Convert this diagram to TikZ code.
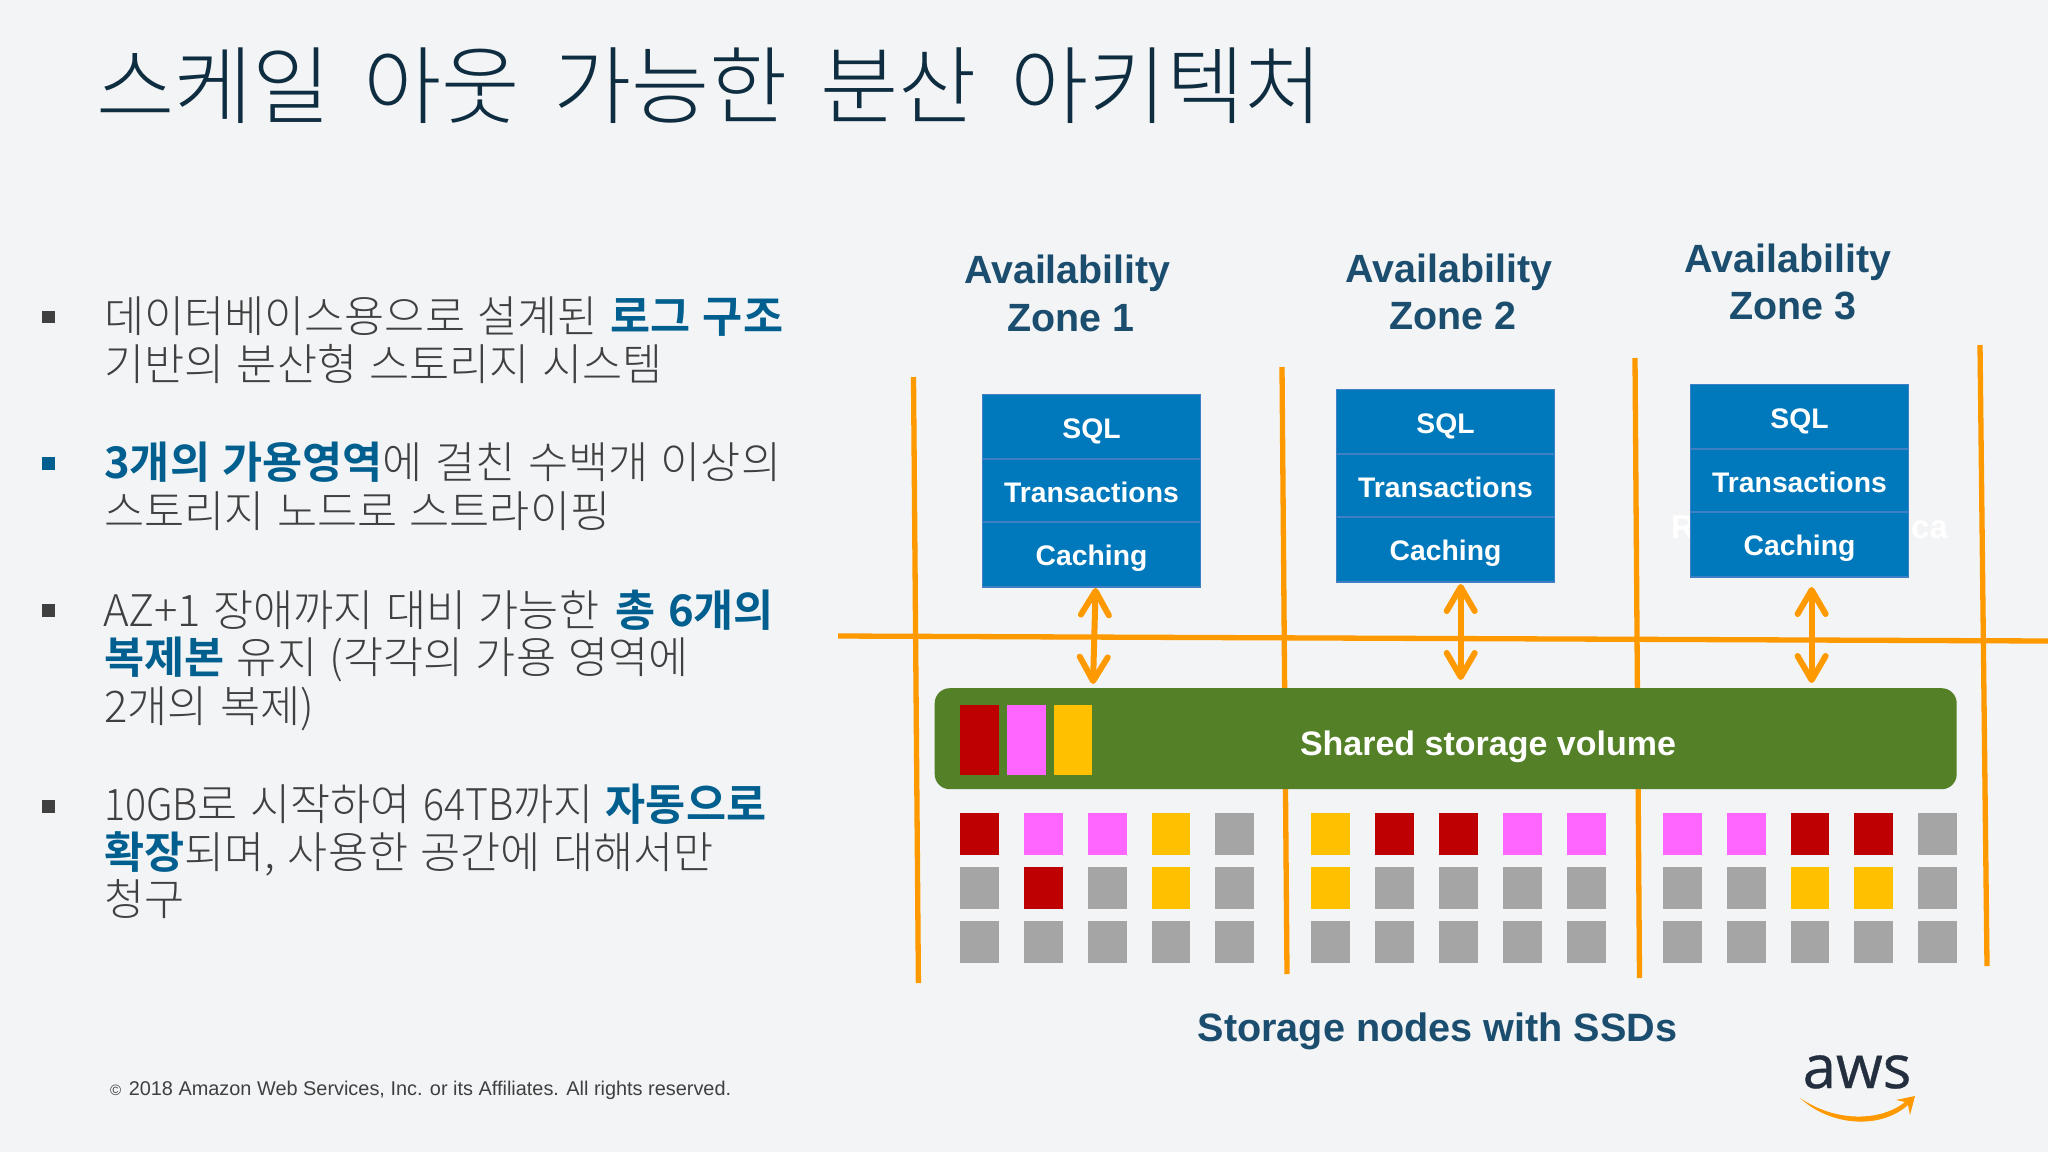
\documentclass[tikz,border=0pt]{standalone}
\usepackage{fontspec}
\usetikzlibrary{arrows.meta}
\setmainfont{Liberation Sans}
\newfontfamily\krfont{Noto Sans CJK KR}[UprightFont=* Light,BoldFont=* Bold]
\newfontfamily\krnarrow{Noto Sans CJK KR}[UprightFont=* Light,FakeStretch=0.9]
\newfontfamily\logofont{Open Sans}[FakeBold=0.6]
\definecolor{bgc}{HTML}{F3F4F6}
\definecolor{orangec}{HTML}{FF9900}
\definecolor{boxc}{HTML}{0079BC}
\definecolor{boxe}{HTML}{3F7FC4}
\definecolor{greenc}{HTML}{548027}
\definecolor{headc}{HTML}{1B4D6E}
\definecolor{titlec}{HTML}{0F2D40}
\definecolor{bodyc}{HTML}{404040}
\definecolor{hlc}{HTML}{005F8F}
\definecolor{cr}{HTML}{BE0000}
\definecolor{cp}{HTML}{FF66FF}
\definecolor{cy}{HTML}{FFC000}
\definecolor{cg}{HTML}{A5A5A5}
\definecolor{awsc}{HTML}{232F3E}
\newcommand{\hl}[1]{{\bfseries\color{hlc}#1}}
\newcommand{\nl}[1]{{\krnarrow #1}}
\newcommand{\bodyfont}{\krfont\fontsize{43.6}{43.6}\selectfont\spaceskip=12.4pt\relax}
\newcommand{\titlefont}{\krfont\fontsize{85}{85}\selectfont\spaceskip=33pt\relax}
\tikzset{
  x=1pt,y=-1pt,
  fence/.style={draw=orangec,line width=5.3pt},
  link/.style={draw=orangec,line width=6pt,{Straight Barb[length=24pt,width=28pt,round]}-{Straight Barb[length=24pt,width=28pt,round]}},
  boxrow/.style={draw=boxe,line width=1.5pt,fill=boxc,minimum width=218pt,inner sep=0pt,outer sep=0pt,text=white,font=\bfseries\fontsize{28.3}{28.3}\selectfont,text height=23pt,text depth=0pt},
  lastrow/.style={boxrow,text height=21.5pt},
  zone/.style={anchor=base,text=headc,inner sep=0pt,font=\bfseries\fontsize{39.4}{39.4}\selectfont},
  cell/.style={anchor=north west,minimum width=38.7pt,minimum height=42pt,inner sep=0pt,outer sep=0pt},
  body/.style={anchor=base west,inner sep=0pt,text=bodyc,font=\bodyfont},
  bullet/.style={anchor=north west,minimum width=13pt,minimum height=12.5pt,inner sep=0pt,fill=bodyc},
  bigtext/.style={anchor=base,inner sep=0pt}
}
\begin{document}
\begin{tikzpicture}
\useasboundingbox (0,0) rectangle (2048,1152);
\fill[bgc] (0,0) rectangle (2048,1152);
% title
\node[anchor=base west,inner sep=0pt,text=titlec,font=\titlefont] (title) at (96,117.5) {스케일 아웃 가능한 분산 아키텍처};
% bullets
\node[bullet] (b1) at (41.5,310.5) {};
\node[bullet,fill=hlc] (b2) at (41.5,457) {};
\node[bullet] (b3) at (41.5,604) {};
\node[bullet] (b4) at (41.5,800) {};
\node[body] (l1) at (104,332) {데이터베이스용으로 설계된 \hl{로그 구조}};
\node[body] (l2) at (104,380.5) {기반의 분산형 스토리지 시스템};
\node[body] (l3) at (104,478.5) {\hl{3개의 가용영역}에 걸친 수백개 이상의};
\node[body] (l4) at (104,527) {스토리지 노드로 스트라이핑};
\node[body] (l5) at (103,626) {AZ+1 장애까지 대비 가능한 \hspace{4pt}\hl{총 6개의}};
\node[body] (l6) at (104,673) {\hl{복제본} 유지 (각각의 가용 영역에};
\node[body] (l7) at (104,722) {2개의 복제)};
\node[body] (l8) at (104,820) {\nl{10GB}로 시작하여 \nl{64TB}까지 \hl{자동으로}};
\node[body] (l9) at (104,868) {\hl{확장}되며, 사용한 공간에 대해서만};
\node[body] (l10) at (104,915) {청구};
% fences
\coordinate (v1a) at (913.5,377); \coordinate (v1b) at (918.4,983);
\coordinate (v2a) at (1282,367); \coordinate (v2b) at (1287,974);
\coordinate (v3a) at (1635,358); \coordinate (v3b) at (1639.5,978);
\coordinate (v4a) at (1980,345); \coordinate (v4b) at (1987,966);
\coordinate (ha) at (838,636); \coordinate (hb) at (2048,641);
\draw[fence] (v1a) -- (v1b);
\draw[fence] (v2a) -- (v2b);
\draw[fence] (v3a) -- (v3b);
\draw[fence] (v4a) -- (v4b);
\draw[fence] (ha) -- (hb);
% ghost text
\node[anchor=base west,inner sep=0pt,text=white,font=\bfseries\fontsize{33}{33}\selectfont] (ghostr) at (1671,538) {R};
\node[anchor=base west,inner sep=0pt,text=white,font=\bfseries\fontsize{33}{33}\selectfont] (ghostc) at (1911,538) {ca};
% zone titles
\node[zone] (z1a) at (1067.5,283.5) {Availability};
\node[zone] (z1b) at (1071,331) {Zone 1};
\node[zone] (z2a) at (1449,282) {Availability};
\node[zone] (z2b) at (1453,329) {Zone 2};
\node[zone] (z3a) at (1788,272) {Availability};
\node[zone] (z3b) at (1792.5,319) {Zone 3};
% SQL stacks
\node[boxrow,anchor=north west,minimum height=64.7pt] (s1) at (982.5,394.5) {SQL};
\node[boxrow,anchor=north,minimum height=63pt] (t1) at (s1.south) {Transactions};
\node[lastrow,anchor=north,minimum height=64.8pt] (c1) at (t1.south) {Caching};
\node[boxrow,anchor=north west,minimum height=64.7pt] (s2) at (1336.5,389.5) {SQL};
\node[boxrow,anchor=north,minimum height=63pt] (t2) at (s2.south) {Transactions};
\node[lastrow,anchor=north,minimum height=64.8pt] (c2) at (t2.south) {Caching};
\node[boxrow,anchor=north west,minimum height=64.7pt] (s3) at (1690.5,384.5) {SQL};
\node[boxrow,anchor=north,minimum height=63pt] (t3) at (s3.south) {Transactions};
\node[lastrow,anchor=north,minimum height=64.8pt] (c3) at (t3.south) {Caching};
% shared volume
\node[anchor=north west,fill=greenc,rounded corners=15pt,minimum width=1022pt,minimum height=101pt,inner sep=0pt] (vol) at (934.5,688) {};
\node[bigtext,text=white,font=\bfseries\fontsize{34}{34}\selectfont] (voltext) at (1488,755) {Shared storage volume};
\node[cell,fill=cr,minimum height=70pt] (sr) at (960,705) {};
\node[cell,fill=cp,minimum height=70pt] (sp) at (1007,705) {};
\node[cell,fill=cy,minimum height=70pt] (sy) at (1053.5,705) {};
% arrows
\coordinate (a1a) at (1095.6,588); \coordinate (a1b) at (1093,684);
\coordinate (a2a) at (1460.7,584); \coordinate (a2b) at (1460.7,680);
\coordinate (a3a) at (1811.6,587); \coordinate (a3b) at (1811.6,683);
\draw[link] (a1a) -- (a1b);
\draw[link] (a2a) -- (a2b);
\draw[link] (a3a) -- (a3b);
% storage grid
\foreach \x/\p/\q/\r [count=\i] in {
 960/cr/cg/cg,1024/cp/cr/cg,1088/cp/cg/cg,1151.5/cy/cy/cg,1215/cg/cg/cg,
 1311/cy/cy/cg,1375/cr/cg/cg,1439/cr/cg/cg,1503/cp/cg/cg,1567/cp/cg/cg,
 1663/cp/cg/cg,1727/cp/cg/cg,1790.5/cr/cy/cg,1854/cr/cy/cg,1918/cg/cg/cg}{
  \node[cell,fill=\p] (n1-\i) at (\x,812.7) {};
  \node[cell,fill=\q] (n2-\i) at (\x,866.7) {};
  \node[cell,fill=\r] (n3-\i) at (\x,921) {};
}
\node[bigtext,text=headc,font=\bfseries\fontsize{39.6}{39.6}\selectfont] (ssd) at (1437.5,1041.5) {Storage nodes with SSDs};
% footer
\node[anchor=base west,inner sep=0pt,text=bodyc,font=\fontsize{19.9}{19.9}\selectfont] (foot) at (110,1095) {{\fontsize{15}{15}\selectfont ©}\hspace{2pt} 2018 Amazon Web Services, Inc. or its Affiliates. All rights reserved.};
% logo
\node[anchor=base,inner sep=0pt,text=awsc,font=\logofont\fontsize{60}{60}\selectfont] (aws) at (1857,1088) {aws};
\fill[orangec] (1800,1098) .. controls (1835,1122) and (1880,1122) .. (1905,1102) -- (1896,1100) -- (1915,1096) -- (1910,1115) -- (1908,1105) .. controls (1880,1130) and (1830,1126) .. (1800,1098) -- cycle;
\end{tikzpicture}
\end{document}
